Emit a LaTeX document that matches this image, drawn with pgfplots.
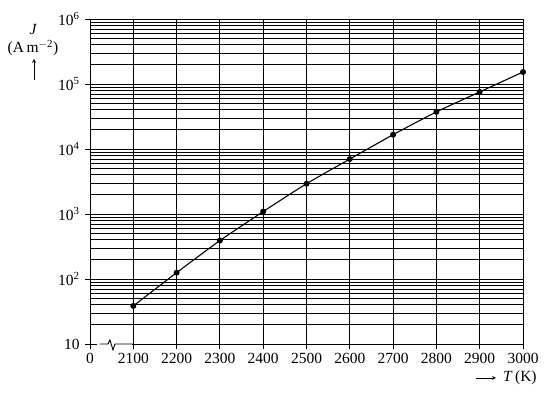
\documentclass[border=0pt]{standalone}
\usepackage{pgfplots}
\pgfplotsset{compat=1.18}
\usepackage{fontspec}
\setmainfont{Liberation Serif}
\begin{document}
\fontsize{15.5}{18}\selectfont
\begin{tikzpicture}[x=1pt,y=1pt]
\useasboundingbox (-90,-51) rectangle (454,344);
\begin{axis}[
  at={(0,0)}, anchor=south west, scale only axis,
  width=433pt, height=325pt,
  ymode=log, ymin=10, ymax=1e6,
  xmin=2000, xmax=3000,
  xtick={2000,2100,2200,2300,2400,2500,2600,2700,2800,2900,3000},
  xticklabels={0,2100,2200,2300,2400,2500,2600,2700,2800,2900,3000},
  ytick={10,100,1000,10000,100000,1000000},
  yticklabels={10,10\textsuperscript{2},10\textsuperscript{3},10\textsuperscript{4},10\textsuperscript{5},10\textsuperscript{6}},
  xtick pos=bottom, ytick pos=left,
  grid=both,
  major grid style={black, line width=0.9pt},
  minor grid style={black, line width=0.9pt},
  tick align=outside, major tick length=5pt, minor tick length=0pt,
  tick style={black, line width=0.9pt},
  axis line style={black, line width=0.9pt},
  ticklabel style={font=\fontsize{15.5}{18}\selectfont},
  xticklabel style={yshift=1pt},
  clip=false,
]
\addplot[black, line width=1.1pt, smooth, tension=0.4, mark=*, mark size=2.4pt] coordinates {
  (2100,38.5) (2200,125) (2300,390) (2400,1090) (2500,2920)
  (2600,7000) (2700,16600) (2800,37200) (2900,75500) (3000,153000)
};
\end{axis}
% axis break
\fill[white] (6,-2) rectangle (42,2);
\draw[black, line width=0.9pt] (-0.45,0)--(7,0);
\draw[black, line width=0.9pt] (10,0)--(18,0)--(20,4)--(23,-6)--(25,0)--(43.4,0);
% y label
\node[font=\fontsize{15.5}{18}\selectfont\itshape] at (-57,314) {J};
\node[font=\fontsize{15.5}{18}\selectfont] at (-57,296) {(A\,m\textsuperscript{$-$2})};
\draw[black, line width=0.7pt, -stealth] (-56,264)--(-56,285);
% x label
\draw[black, line width=0.7pt, -stealth] (386,-34)--(406,-34);
\node[anchor=east, font=\fontsize{15.5}{18}\selectfont] at (452,-34) {\textit{T}\,(K)};
\end{tikzpicture}
\end{document}
